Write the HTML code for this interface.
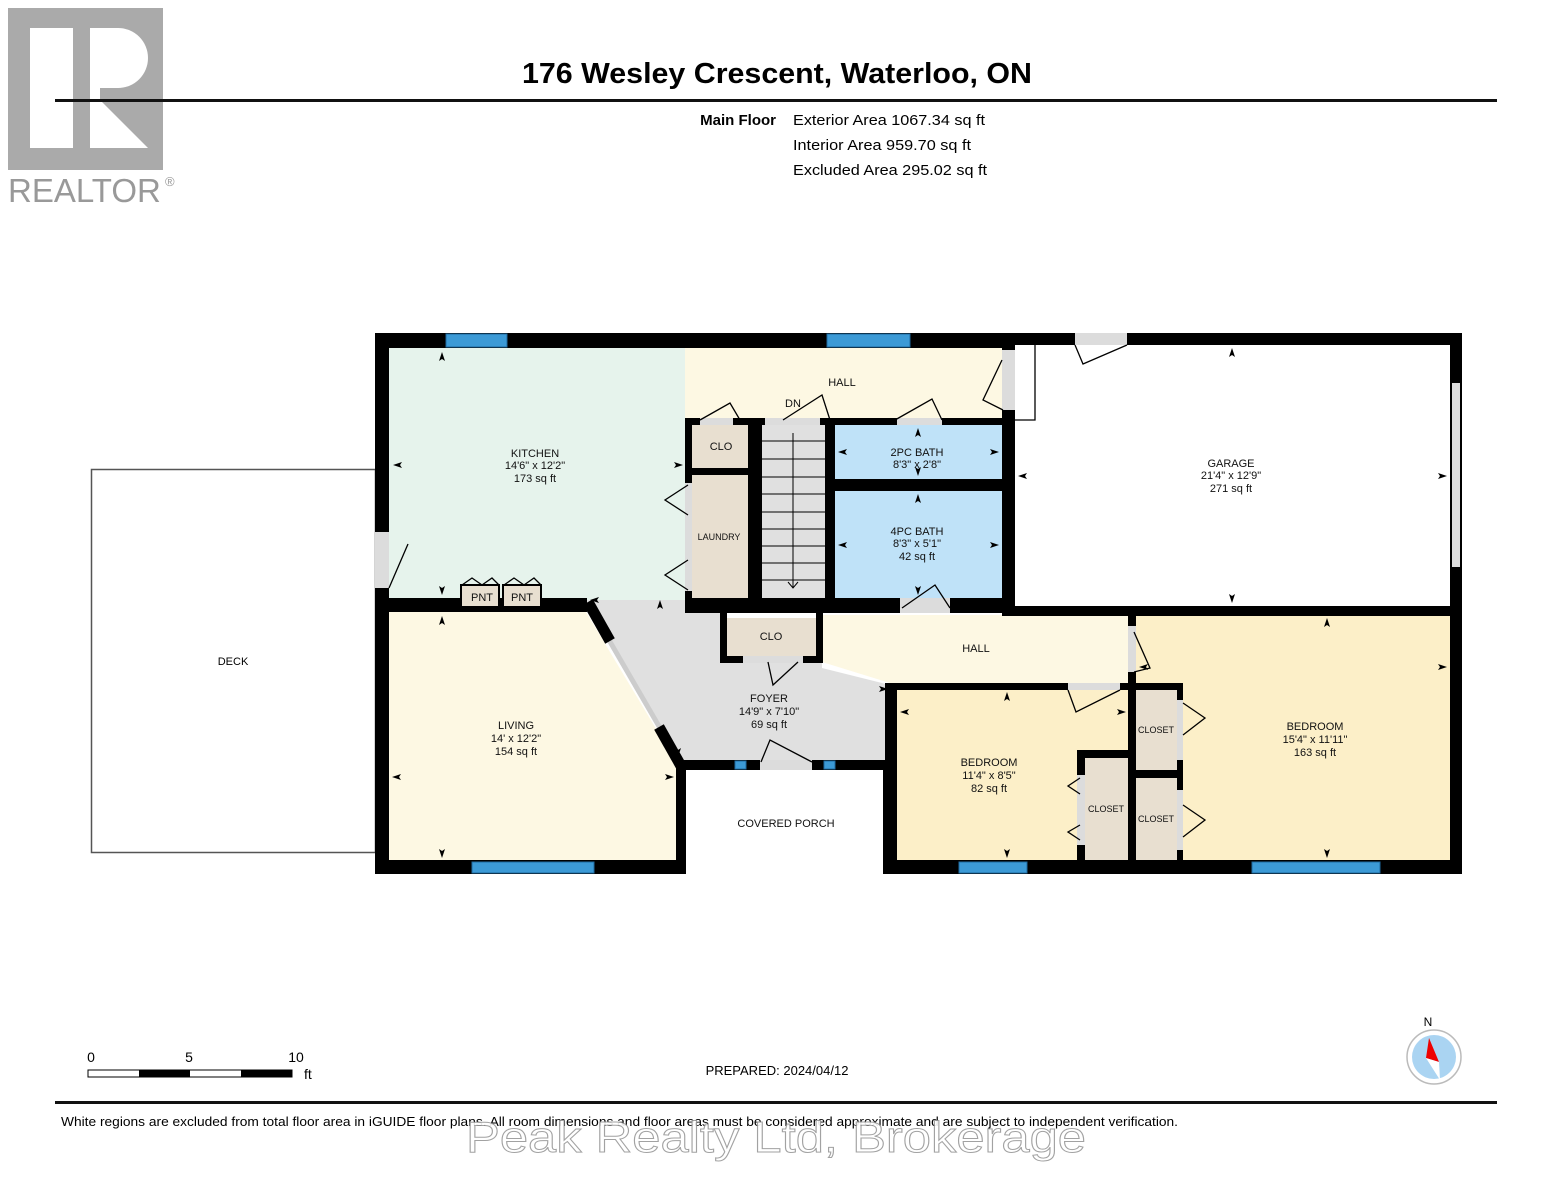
<!DOCTYPE html>
<html><head><meta charset="utf-8"><style>
html,body{margin:0;padding:0;background:#fff;}
svg{display:block;}
text{font-family:"Liberation Sans",Arial,sans-serif;}
</style></head><body>
<svg width="1553" height="1200" viewBox="0 0 1553 1200" xmlns="http://www.w3.org/2000/svg">
<!-- Realtor logo -->
<rect x="8" y="8" width="155" height="162" fill="#aaaaaa"/>
<rect x="30" y="28" width="43" height="120" fill="#fff"/>
<path d="M90 28 H118 A30 30 0 0 1 118 88 H90 Z" fill="#fff"/>
<rect x="90" y="28" width="10" height="120" fill="#fff"/>
<path d="M90 90 L148 148 L90 148 Z" fill="#fff"/>
<text x="8" y="202" font-size="33" fill="#999">REALTOR</text>
<text x="165" y="186" font-size="13" fill="#999">®</text>

<text x="777" y="83" font-size="29" font-weight="bold" text-anchor="middle" textLength="510" lengthAdjust="spacingAndGlyphs">176 Wesley Crescent, Waterloo, ON</text>
<rect x="55" y="99" width="1442" height="3" fill="#111"/>
<text x="776" y="125" font-size="15" font-weight="bold" text-anchor="end">Main Floor</text>
<text x="793" y="125" font-size="15" textLength="192" lengthAdjust="spacingAndGlyphs">Exterior Area 1067.34 sq ft</text>
<text x="793" y="150" font-size="15" textLength="178" lengthAdjust="spacingAndGlyphs">Interior Area 959.70 sq ft</text>
<text x="793" y="175" font-size="15" textLength="194" lengthAdjust="spacingAndGlyphs">Excluded Area 295.02 sq ft</text>

<!-- Deck -->
<rect x="91.5" y="469.5" width="284" height="383" fill="#fff" stroke="#555" stroke-width="1.5"/>
<text x="233" y="665" font-size="11" text-anchor="middle">DECK</text>

<!-- fills -->
<rect x="389" y="348" width="296" height="252" fill="#e6f3ec"/>
<rect x="685" y="348" width="318" height="72" fill="#fdf8e3"/>
<rect x="1015" y="345" width="435" height="262" fill="#fff"/>
<polygon points="389,612 586,612 676,762 676,862 389,862" fill="#fdf8e3"/>
<polygon points="586,600 685,600 685,612 720,612 720,662 822,662 822,668 890,685 890,760 676,760" fill="#e0e0e0"/>
<polygon points="822,615 1130,615 1130,683 890,683 822,662" fill="#fdf8e3"/>
<rect x="692" y="425" width="56" height="43" fill="#e8dfd0"/>
<rect x="692" y="475" width="56" height="123" fill="#e8dfd0"/>
<rect x="762" y="425" width="63" height="173" fill="#e0e0e0"/>
<rect x="835" y="425" width="167" height="54" fill="#bfe2f8"/>
<rect x="835" y="491" width="167" height="107" fill="#bfe2f8"/>
<rect x="727" y="618" width="89" height="42" fill="#e8dfd0"/>
<rect x="897" y="690" width="231" height="170" fill="#fcefc8"/>
<rect x="1136" y="616" width="314" height="244" fill="#fcefc8"/>
<rect x="1085" y="758" width="43" height="102" fill="#e8dfd0"/>
<rect x="1136" y="690" width="41" height="80" fill="#e8dfd0"/>
<rect x="1136" y="778" width="41" height="82" fill="#e8dfd0"/>
<rect x="686" y="770" width="197" height="104" fill="#fff"/>

<!-- stairs -->
<g stroke="#000" stroke-width="1">
<line x1="762" x2="825" y1="441" y2="441"/><line x1="762" x2="825" y1="459" y2="459"/><line x1="762" x2="825" y1="477" y2="477"/><line x1="762" x2="825" y1="494" y2="494"/><line x1="762" x2="825" y1="512" y2="512"/><line x1="762" x2="825" y1="529" y2="529"/><line x1="762" x2="825" y1="546" y2="546"/><line x1="762" x2="825" y1="563" y2="563"/><line x1="762" x2="825" y1="580" y2="580"/>
<line x1="793" y1="433" x2="793" y2="588"/>
</g>
<path d="M788 582 L793 588 L798 582" fill="none" stroke="#000"/>

<!-- walls -->
<g fill="#000">
<rect x="375" y="333" width="640" height="15"/>
<rect x="1015" y="333" width="447" height="12"/>
<rect x="375" y="333" width="14" height="541"/>
<rect x="1450" y="333" width="12" height="541"/>
<rect x="375" y="860" width="311" height="14"/>
<rect x="883" y="860" width="579" height="14"/>
<rect x="1002" y="333" width="13" height="283"/>
<rect x="1002" y="606" width="460" height="10"/>
<rect x="685" y="418" width="330" height="7"/>
<rect x="685" y="418" width="7" height="195"/>
<rect x="748" y="418" width="14" height="195"/>
<rect x="692" y="468" width="56" height="7"/>
<rect x="825" y="418" width="10" height="195"/>
<rect x="835" y="479" width="167" height="12"/>
<rect x="685" y="598" width="330" height="15"/>
<rect x="375" y="598" width="212" height="14"/>
<rect x="676" y="760" width="10" height="114"/>
<rect x="676" y="760" width="214" height="10"/>
<rect x="883" y="760" width="7" height="114"/>
<rect x="720" y="613" width="7" height="50"/>
<rect x="816" y="613" width="7" height="50"/>
<rect x="720" y="656" width="103" height="7"/>
<rect x="885" y="683" width="12" height="191"/>
<rect x="885" y="683" width="298" height="7"/>
<rect x="1128" y="616" width="8" height="258"/>
<rect x="1177" y="683" width="6" height="191"/>
<rect x="1136" y="770" width="47" height="8"/>
<rect x="1077" y="750" width="8" height="124"/>
<rect x="1077" y="750" width="51" height="8"/>
</g>
<!-- diagonal wall -->
<line x1="609" y1="640" x2="660" y2="728" stroke="#ccc" stroke-width="5"/>
<line x1="588" y1="602" x2="610" y2="641" stroke="#000" stroke-width="11"/>
<line x1="659" y1="727" x2="681" y2="766" stroke="#000" stroke-width="11"/>

<!-- door openings (gray) -->
<g fill="#dcdcdc">
<rect x="375" y="532" width="14" height="56"/>
<rect x="1002" y="350" width="13" height="60"/>
<rect x="1075" y="333" width="52" height="12"/>
<rect x="1452" y="383" width="8" height="184"/>
<rect x="700" y="418" width="33" height="7"/>
<rect x="765" y="418" width="55" height="7"/>
<rect x="897" y="418" width="45" height="7"/>
<rect x="685" y="483" width="7" height="108"/>
<rect x="900" y="598" width="50" height="15"/>
<rect x="743" y="656" width="60" height="7"/>
<rect x="760" y="760" width="52" height="10"/>
<rect x="1068" y="683" width="52" height="7"/>
<rect x="1128" y="626" width="8" height="46"/>
<rect x="1077" y="775" width="8" height="70"/>
<rect x="1177" y="700" width="6" height="60"/>
<rect x="1177" y="790" width="6" height="60"/>
</g>
<rect x="461" y="585" width="38" height="22" fill="#e8dfd0" stroke="#000" stroke-width="2"/>
<rect x="503" y="585" width="38" height="22" fill="#e8dfd0" stroke="#000" stroke-width="2"/>
<!-- windows -->
<g fill="#3c9ad6" stroke="#1e6aa0" stroke-width="1">
<rect x="446" y="334" width="61" height="13"/>
<rect x="827" y="334" width="83" height="13"/>
<rect x="472" y="862" width="122" height="11"/>
<rect x="959" y="862" width="68" height="11"/>
<rect x="1252" y="862" width="128" height="11"/>
<rect x="735" y="761" width="11" height="8"/>
<rect x="824" y="761" width="11" height="8"/>
</g>
<!-- door swings -->
<g fill="none" stroke="#000" stroke-width="1.3">
<path d="M389 588 L408 544"/><path d="M1003 410 L983 400 L1002 360"/>
<path d="M1035 345 L1035 420 L1015 420"/>
<path d="M1127 345 L1083 364 L1075 345"/>
<path d="M700 420 L730 403 L740 420"/>
<path d="M783 420 L822 395 L830 420"/>
<path d="M895 420 L932 399 L942 420"/>
<path d="M688 485 L665 500 L688 515"/><path d="M688 560 L665 575 L688 590"/>
<path d="M902 608 L935 585 L950 608"/>
<path d="M768 662 L773 685 L798 662"/>
<path d="M761 762 L770 740 L812 762"/>
<path d="M1120 690 L1076 712 L1068 690"/>
<path d="M1134 632 L1150 668 L1134 672"/>
<path d="M1183 703 L1205 718 L1183 735"/><path d="M1183 805 L1205 820 L1183 837"/>
<path d="M1080 778 L1068 786 L1080 794"/><path d="M1080 825 L1068 832 L1080 840"/>
<path d="M462 585 L472 578 L482 585 L492 578 L499 585"/>
<path d="M504 585 L514 578 L524 585 L534 578 L541 585"/>
</g>
<!-- dimension arrows -->
<g fill="#000">
<path d="M442 352 l-3 9 l3 -2 l3 2z"/><path d="M442 595 l-3 -9 l3 2 l3 -2z"/>
<path d="M393 465 l9 -3 l-2 3 l2 3z"/><path d="M683 465 l-9 -3 l2 3 l-2 3z"/>
<path d="M1232 348 l-3 9 l3 -2 l3 2z"/><path d="M1232 603 l-3 -9 l3 2 l3 -2z"/>
<path d="M1018 476 l9 -3 l-2 3 l2 3z"/><path d="M1447 476 l-9 -3 l2 3 l-2 3z"/>
<path d="M918 428 l-3 9 l3 -2 l3 2z"/><path d="M918 476 l-3 -9 l3 2 l3 -2z"/>
<path d="M838 452 l9 -3 l-2 3 l2 3z"/><path d="M999 452 l-9 -3 l2 3 l-2 3z"/>
<path d="M918 494 l-3 9 l3 -2 l3 2z"/><path d="M918 595 l-3 -9 l3 2 l3 -2z"/>
<path d="M838 545 l9 -3 l-2 3 l2 3z"/><path d="M999 545 l-9 -3 l2 3 l-2 3z"/>
<path d="M442 616 l-3 9 l3 -2 l3 2z"/><path d="M442 858 l-3 -9 l3 2 l3 -2z"/>
<path d="M392 777 l9 -3 l-2 3 l2 3z"/><path d="M674 777 l-9 -3 l2 3 l-2 3z"/>
<path d="M660 600 l-3 9 l3 -2 l3 2z"/><path d="M678 757 l-3 -9 l3 2 l3 -2z"/>
<path d="M590 600 l9 -3 l-2 3 l2 3z"/><path d="M888 689 l-9 -3 l2 3 l-2 3z"/>
<path d="M1007 692 l-3 9 l3 -2 l3 2z"/><path d="M1007 858 l-3 -9 l3 2 l3 -2z"/>
<path d="M900 712 l9 -3 l-2 3 l2 3z"/><path d="M1126 712 l-9 -3 l2 3 l-2 3z"/>
<path d="M1327 618 l-3 9 l3 -2 l3 2z"/><path d="M1327 858 l-3 -9 l3 2 l3 -2z"/>
<path d="M1139 667 l9 -3 l-2 3 l2 3z"/><path d="M1447 667 l-9 -3 l2 3 l-2 3z"/>
</g>
<!-- labels -->
<g font-size="11" text-anchor="middle" fill="#111">
<text x="535" y="457">KITCHEN</text><text x="535" y="469">14'6" x 12'2"</text><text x="535" y="482">173 sq ft</text>
<text x="842" y="386">HALL</text><text x="793" y="407">DN</text>
<text x="721" y="450">CLO</text>
<text x="719" y="540" font-size="9">LAUNDRY</text>
<text x="917" y="456">2PC BATH</text><text x="917" y="468">8'3" x 2'8"</text>
<text x="917" y="535">4PC BATH</text><text x="917" y="547">8'3" x 5'1"</text><text x="917" y="560">42 sq ft</text>
<text x="1231" y="467">GARAGE</text><text x="1231" y="479">21'4" x 12'9"</text><text x="1231" y="492">271 sq ft</text>
<text x="482" y="601">PNT</text><text x="522" y="601">PNT</text>
<text x="516" y="729">LIVING</text><text x="516" y="742">14' x 12'2"</text><text x="516" y="755">154 sq ft</text>
<text x="771" y="640">CLO</text>
<text x="976" y="652">HALL</text>
<text x="769" y="702">FOYER</text><text x="769" y="715">14'9" x 7'10"</text><text x="769" y="728">69 sq ft</text>
<text x="786" y="827">COVERED PORCH</text>
<text x="989" y="766">BEDROOM</text><text x="989" y="779">11'4" x 8'5"</text><text x="989" y="792">82 sq ft</text>
<text x="1315" y="730">BEDROOM</text><text x="1315" y="743">15'4" x 11'11"</text><text x="1315" y="756">163 sq ft</text>
<text x="1156" y="733" font-size="9">CLOSET</text>
<text x="1156" y="822" font-size="9">CLOSET</text>
<text x="1106" y="812" font-size="9">CLOSET</text>
</g>

<!-- scale -->
<text x="91" y="1062" font-size="14" text-anchor="middle">0</text>
<text x="189" y="1062" font-size="14" text-anchor="middle">5</text>
<text x="296" y="1062" font-size="14" text-anchor="middle">10</text>
<rect x="88" y="1070" width="204" height="7" fill="#fff" stroke="#000"/>
<rect x="139" y="1070" width="51" height="7" fill="#000"/>
<rect x="241" y="1070" width="51" height="7" fill="#000"/>
<text x="304" y="1079" font-size="14">ft</text>
<text x="777" y="1075" font-size="13" text-anchor="middle">PREPARED: 2024/04/12</text>
<!-- compass -->
<text x="1428" y="1026" font-size="12" text-anchor="middle">N</text>
<circle cx="1434" cy="1057" r="27" fill="#fff" stroke="#bbb" stroke-width="1.5"/>
<circle cx="1434" cy="1057" r="22" fill="#aad4f2"/>
<polygon points="1429,1038 1439,1062 1426,1058" fill="#e00"/>
<polygon points="1426,1058 1439,1062 1440,1080" fill="#fff"/>
<rect x="55" y="1101" width="1442" height="3" fill="#111"/>
<text x="61" y="1126" font-size="13" textLength="1117" lengthAdjust="spacingAndGlyphs">White regions are excluded from total floor area in iGUIDE floor plans. All room dimensions and floor areas must be considered approximate and are subject to independent verification.</text>
<text x="776" y="1152" font-size="44" text-anchor="middle" fill="#fff" stroke="#999" stroke-width="1" opacity="0.9" textLength="620" lengthAdjust="spacingAndGlyphs">Peak Realty Ltd, Brokerage</text>
</svg>
</body></html>
